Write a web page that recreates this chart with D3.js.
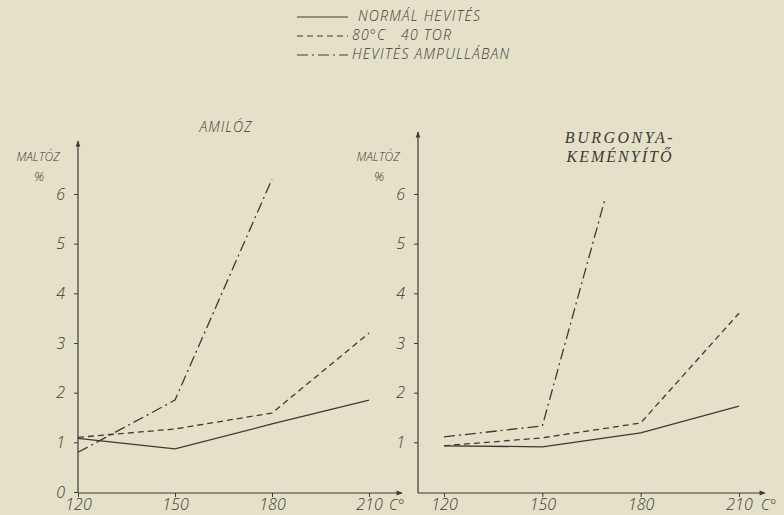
<!DOCTYPE html>
<html>
<head>
<meta charset="utf-8">
<script src="https://d3js.org/d3.v7.min.js"></script>
<style>
  body { margin: 0; background: #e5e0c8; }
  svg { display: block; }
  .axis path { display: none; }
  .axis line { stroke: #3b3a35; }
  .axis text { font-family: "Open Sans", sans-serif; font-weight: 300; font-style: italic; font-size: 16px; fill: #3b3a35; }
</style>
</head>
<body>
<div class="chart"></div>
<script>
// data
var temps = [120, 150, 180, 210];
var seriesNames = ["NORMÁL HEVITÉS", "80°C   40 TOR", "HEVITÉS AMPULLÁBAN"];
var dashes = [null, "6,4", "11,4,2,4"];

// AMILÓZ
var amilozNormal = [1.08, 0.87, 1.37, 1.85];
var amiloz80 = [1.1, 1.27, 1.59, 3.2];
var amilozAmpX = [120, 150, 180];
var amilozAmp = [0.8, 1.85, 6.3];

// BURGONYA-KEMÉNYÍTŐ
var burgNormal = [0.93, 0.91, 1.19, 1.73];
var burg80 = [0.93, 1.09, 1.39, 3.6];
var burgAmpX = [120, 150, 169];
var burgAmp = [1.11, 1.33, 5.87];

var yTicksLeft = [0, 1, 2, 3, 4, 5, 6];
var yTicksRight = [1, 2, 3, 4, 5, 6];

var w = 784, h = 515;
var ink = "#3b3a35";
var hand = "Open Sans, sans-serif";

var svg = d3.select("div.chart").append("svg")
    .attr("width", w).attr("height", h);

svg.append("rect").attr("width", w).attr("height", h).attr("fill", "#e5e0c8");

// arrow heads
var defs = svg.append("defs");
defs.append("marker").attr("id", "arr")
    .attr("viewBox", "0 0 10 10").attr("refX", 9).attr("refY", 5)
    .attr("markerWidth", 12).attr("markerHeight", 6)
    .attr("markerUnits", "userSpaceOnUse")
    .attr("orient", "auto")
    .append("path").attr("d", "M0,1 L10,5 L0,9 Z").attr("fill", ink);

function handText(sel, size) {
    return sel.attr("font-family", hand).attr("font-style", "italic")
        .attr("font-weight", 300).attr("font-size", size + "px").attr("fill", ink);
}

// legend
var leg = svg.append("g");
seriesNames.forEach(function(name, i) {
    var y = 17 + i * 19;
    leg.append("line")
        .attr("x1", 297).attr("x2", 348).attr("y1", y).attr("y2", y)
        .attr("stroke", ink).attr("stroke-width", 1.1)
        .attr("stroke-dasharray", dashes[i]);
    handText(leg.append("text"), 14)
        .attr("x", i == 0 ? 358 : 352).attr("y", y + 4)
        .attr("letter-spacing", "1.2px")
        .style("white-space", "pre")
        .text(name);
});

function panel(cfg) {
    var x = d3.scaleLinear().domain([120, 210]).range(cfg.xr);
    var y = d3.scaleLinear().domain([0, 6]).range([492, 194]);
    var g = svg.append("g");
    var ax = cfg.xr[0] - cfg.off;

    // axes lines with arrows
    g.append("line").attr("x1", ax).attr("x2", ax)
        .attr("y1", 493).attr("y2", cfg.ytop)
        .attr("stroke", ink).attr("stroke-width", 1.2).attr("marker-end", "url(#arr)");
    g.append("line").attr("x1", ax).attr("x2", cfg.xend)
        .attr("y1", 493).attr("y2", 493)
        .attr("stroke", ink).attr("stroke-width", 1.2).attr("marker-end", "url(#arr)");

    g.append("g").attr("class", "axis")
        .attr("transform", "translate(" + ax + ",0)")
        .call(d3.axisLeft(y).tickValues(cfg.yticks).tickSize(4).tickPadding(9).tickFormat(d3.format("d")));

    g.append("g").attr("class", "axis")
        .attr("transform", "translate(0,493)")
        .call(d3.axisBottom(x).tickValues(temps).tickSize(4).tickPadding(2).tickFormat(d3.format("d")));

    handText(g.append("text"), 15).attr("x", cfg.cx).attr("y", 510).text("C°");

    handText(g.append("text"), 12).attr("x", ax - 40).attr("y", 161)
        .attr("text-anchor", "middle").text("MALTÓZ");
    handText(g.append("text"), 13).attr("x", ax - 39).attr("y", 181)
        .attr("text-anchor", "middle").text("%");

    var line = d3.line().x(function(d) { return x(d[0]); }).y(function(d) { return y(d[1]); });
    cfg.series.forEach(function(s, i) {
        g.append("path")
            .attr("d", line(d3.zip(s.x, s.v)))
            .attr("fill", "none").attr("stroke", ink).attr("stroke-width", 1.3)
            .attr("stroke-dasharray", dashes[i]);
    });
    return g;
}

panel({
    xr: [78, 369], off: 0, xend: 402, cx: 389, ytop: 141, yticks: yTicksLeft,
    series: [
        { x: temps, v: amilozNormal },
        { x: temps, v: amiloz80 },
        { x: amilozAmpX, v: amilozAmp }
    ]
});
panel({
    xr: [444, 739], off: 26, xend: 765, cx: 761, ytop: 132, yticks: yTicksRight,
    series: [
        { x: temps, v: burgNormal },
        { x: temps, v: burg80 },
        { x: burgAmpX, v: burgAmp }
    ]
});

// titles
handText(svg.append("text"), 14).attr("x", 226).attr("y", 132).attr("text-anchor", "middle")
    .attr("letter-spacing", "1px").text("AMILÓZ");
svg.append("text").attr("x", 620).attr("y", 143).attr("text-anchor", "middle")
    .attr("font-family", "Liberation Serif, serif").attr("font-style", "italic")
    .attr("font-size", "16px").attr("fill", ink).attr("letter-spacing", "2.5px")
    .text("BURGONYA-");
svg.append("text").attr("x", 620).attr("y", 162).attr("text-anchor", "middle")
    .attr("font-family", "Liberation Serif, serif").attr("font-style", "italic")
    .attr("font-size", "16px").attr("fill", ink).attr("letter-spacing", "2px")
    .text("KEMÉNYÍTŐ");
</script>
</body>
</html>
